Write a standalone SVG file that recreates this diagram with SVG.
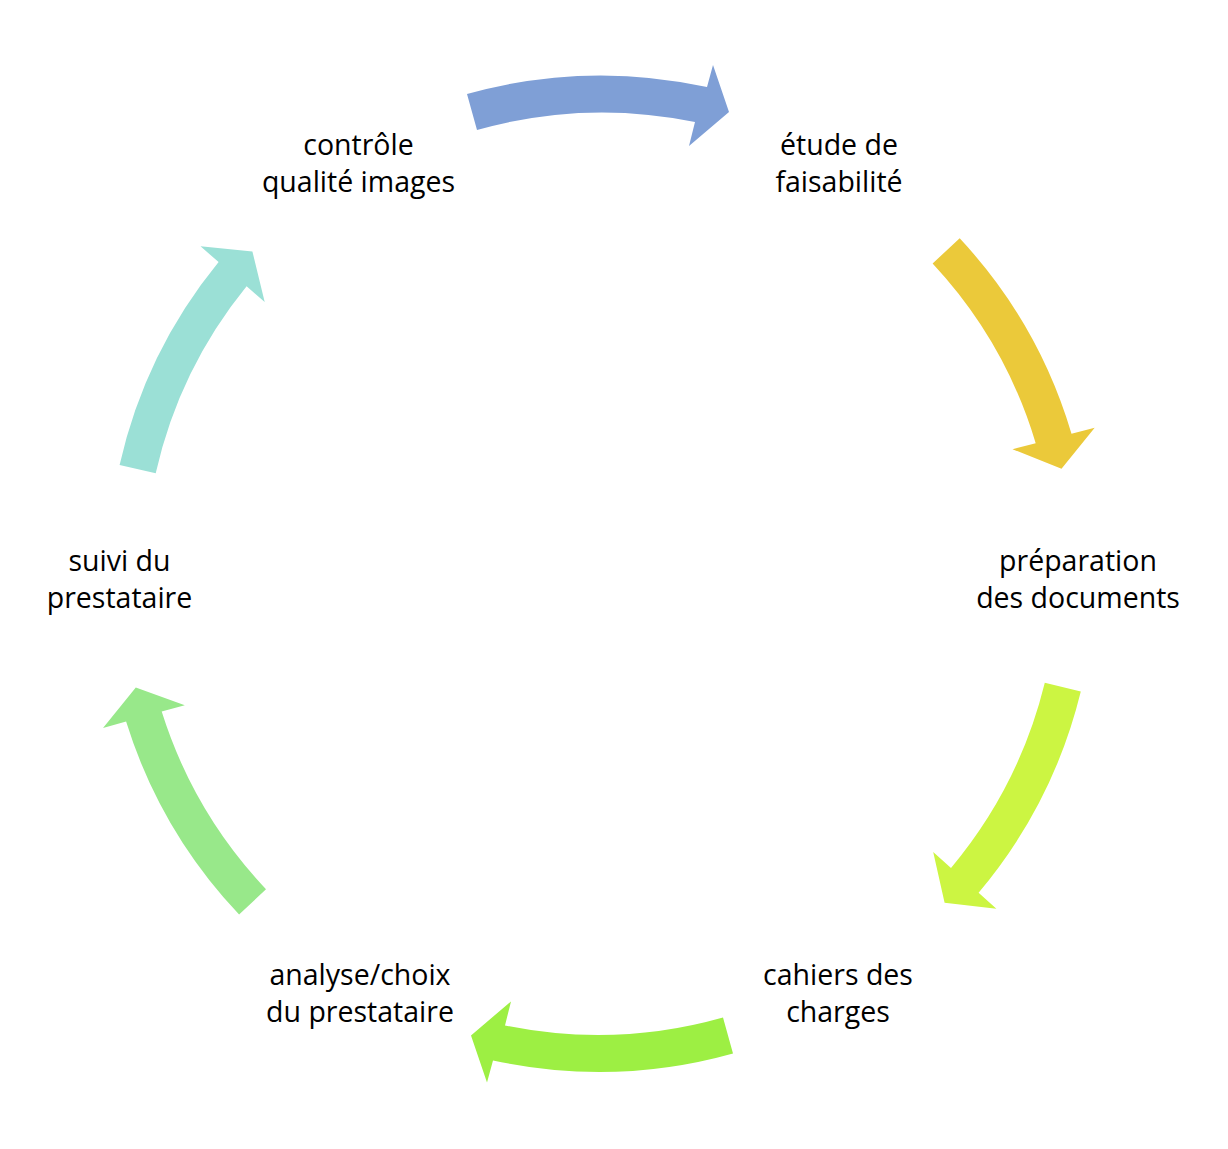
<svg xmlns="http://www.w3.org/2000/svg" width="1228" height="1149" viewBox="0 0 1228 1149">
  <style>
    .lbl { font-family: "Open Sans", "Liberation Sans", sans-serif; font-size: 28.5px; fill: #000000; text-anchor: middle; }
  </style>
  <rect x="0" y="0" width="1228" height="1149" fill="#ffffff"/>
  <g id="connectors">
    <path id="arrow-1" fill="#7F9FD6" d="M467,94 A497.7,497.7 0 0 1 707,87 L713,65 L729,112 L689,146 L695,122 A460.7,460.7 0 0 0 477,130 Z"/>
    <path id="arrow-2" fill="#EBC93A" d="M959.7,238.3 A491.8,491.8 0 0 1 1071.5,433.8 L1094.7,427.8 L1061.5,468.8 L1012.5,449.2 L1035.7,443.2 A454.8,454.8 0 0 0 932.6,263.5 Z"/>
    <path id="arrow-3" fill="#CCF542" d="M1080.8,691.5 A495,495 0 0 1 978.6,892.7 L996.4,908.7 L944.6,902.8 L933.2,851.9 L951,867.9 A458,458 0 0 0 1044.8,682.7 Z"/>
    <path id="arrow-4" fill="#9DEF43" d="M733,1053.4 A497.7,497.7 0 0 1 493,1060.4 L487,1082.4 L471,1035.4 L511,1001.4 L505,1025.4 A460.7,460.7 0 0 0 723,1017.4 Z"/>
    <path id="arrow-5" fill="#98E88A" d="M239.1,914.6 A496.5,496.5 0 0 1 126.1,721.6 L103,728 L135.8,687.6 L184.8,705.2 L161.7,711.6 A459.5,459.5 0 0 0 266,889.2 Z"/>
    <path id="arrow-6" fill="#9BE0D6" d="M119.6,465 A492.5,492.5 0 0 1 218.6,262.1 L200.5,246.3 L252.4,251.4 L264.7,302.1 L246.6,286.3 A455.5,455.5 0 0 0 155.7,473.2 Z"/>
  </g>
  <g id="node-etude">
    <text class="lbl" x="839" y="154.5">étude de</text>
    <text class="lbl" x="839" y="192">faisabilité</text>
  </g>
  <g id="node-preparation">
    <text class="lbl" x="1078" y="570.7">préparation</text>
    <text class="lbl" x="1078" y="608.3">des documents</text>
  </g>
  <g id="node-cahiers">
    <text class="lbl" x="838" y="984.7">cahiers des</text>
    <text class="lbl" x="838" y="1022.3">charges</text>
  </g>
  <g id="node-analyse">
    <text class="lbl" x="360" y="984.7">analyse/choix</text>
    <text class="lbl" x="360" y="1022.3">du prestataire</text>
  </g>
  <g id="node-suivi">
    <text class="lbl" x="119.5" y="570.7">suivi du</text>
    <text class="lbl" x="119.5" y="608.3">prestataire</text>
  </g>
  <g id="node-controle">
    <text class="lbl" x="358.5" y="154.5">contrôle</text>
    <text class="lbl" x="358.5" y="192">qualité images</text>
  </g>
</svg>
